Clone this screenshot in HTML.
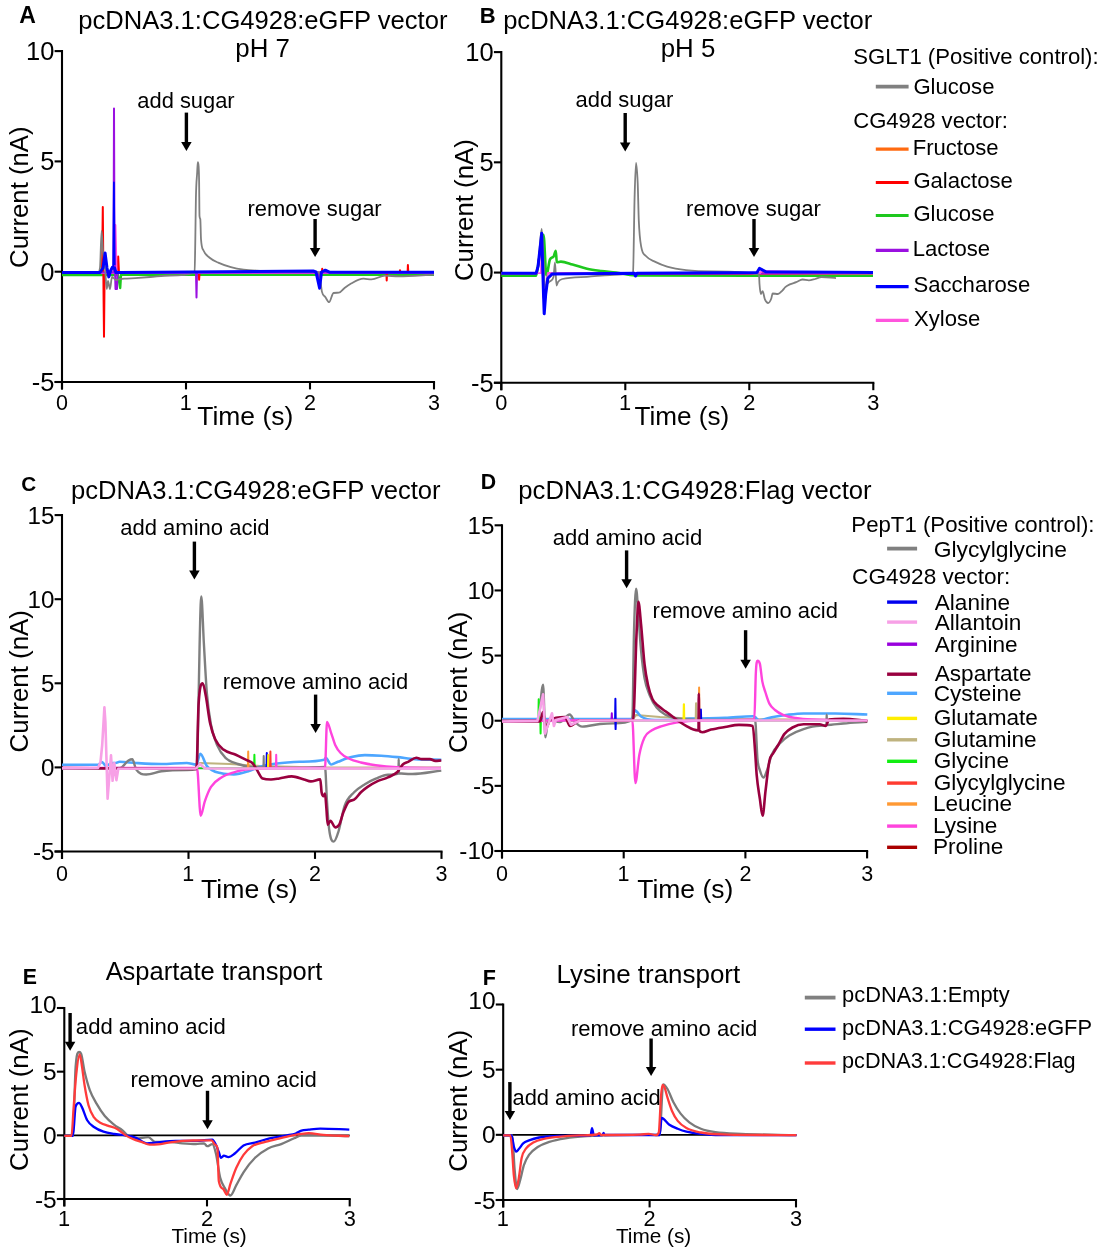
<!DOCTYPE html>
<html><head><meta charset="utf-8"><style>
html,body{margin:0;padding:0;background:#fff;}
svg{display:block;will-change:transform;}
text{font-family:"Liberation Sans",sans-serif;}
</style></head><body>
<svg width="1104" height="1257" viewBox="0 0 1104 1257">
<rect width="1104" height="1257" fill="#fff"/>
<line x1="62.00" y1="50.10" x2="62.00" y2="389.40" stroke="#000" stroke-width="2.1"/>
<line x1="54.60" y1="382.00" x2="435.05" y2="382.00" stroke="#000" stroke-width="2.1"/>
<line x1="54.60" y1="51.10" x2="62.00" y2="51.10" stroke="#000" stroke-width="2.1"/>
<text x="26.05" y="60.02" font-size="25.50" font-weight="normal" fill="#000">10</text>
<line x1="54.60" y1="161.40" x2="62.00" y2="161.40" stroke="#000" stroke-width="2.1"/>
<text x="40.27" y="170.33" font-size="25.50" font-weight="normal" fill="#000">5</text>
<line x1="54.60" y1="271.70" x2="62.00" y2="271.70" stroke="#000" stroke-width="2.1"/>
<text x="40.20" y="280.62" font-size="25.50" font-weight="normal" fill="#000">0</text>
<line x1="54.60" y1="382.00" x2="62.00" y2="382.00" stroke="#000" stroke-width="2.1"/>
<text x="31.79" y="390.93" font-size="25.50" font-weight="normal" fill="#000">-5</text>
<line x1="62.00" y1="382.00" x2="62.00" y2="389.40" stroke="#000" stroke-width="2.1"/>
<text x="56.01" y="409.60" font-size="21.50" font-weight="normal" fill="#000">0</text>
<line x1="186.00" y1="382.00" x2="186.00" y2="389.40" stroke="#000" stroke-width="2.1"/>
<text x="179.74" y="409.60" font-size="21.50" font-weight="normal" fill="#000">1</text>
<line x1="310.00" y1="382.00" x2="310.00" y2="389.40" stroke="#000" stroke-width="2.1"/>
<text x="304.03" y="409.60" font-size="21.50" font-weight="normal" fill="#000">2</text>
<line x1="434.00" y1="382.00" x2="434.00" y2="389.40" stroke="#000" stroke-width="2.1"/>
<text x="428.09" y="409.60" font-size="21.50" font-weight="normal" fill="#000">3</text>
<line x1="501.30" y1="51.10" x2="501.30" y2="390.20" stroke="#000" stroke-width="2.1"/>
<line x1="493.90" y1="382.80" x2="874.35" y2="382.80" stroke="#000" stroke-width="2.1"/>
<line x1="493.90" y1="52.10" x2="501.30" y2="52.10" stroke="#000" stroke-width="2.1"/>
<text x="465.35" y="61.02" font-size="25.50" font-weight="normal" fill="#000">10</text>
<line x1="493.90" y1="162.33" x2="501.30" y2="162.33" stroke="#000" stroke-width="2.1"/>
<text x="479.57" y="171.26" font-size="25.50" font-weight="normal" fill="#000">5</text>
<line x1="493.90" y1="272.57" x2="501.30" y2="272.57" stroke="#000" stroke-width="2.1"/>
<text x="479.50" y="281.49" font-size="25.50" font-weight="normal" fill="#000">0</text>
<line x1="493.90" y1="382.80" x2="501.30" y2="382.80" stroke="#000" stroke-width="2.1"/>
<text x="471.09" y="391.73" font-size="25.50" font-weight="normal" fill="#000">-5</text>
<line x1="501.30" y1="382.80" x2="501.30" y2="390.20" stroke="#000" stroke-width="2.1"/>
<text x="495.22" y="409.70" font-size="21.80" font-weight="normal" fill="#000">0</text>
<line x1="625.30" y1="382.80" x2="625.30" y2="390.20" stroke="#000" stroke-width="2.1"/>
<text x="618.95" y="409.70" font-size="21.80" font-weight="normal" fill="#000">1</text>
<line x1="749.30" y1="382.80" x2="749.30" y2="390.20" stroke="#000" stroke-width="2.1"/>
<text x="743.25" y="409.70" font-size="21.80" font-weight="normal" fill="#000">2</text>
<line x1="873.30" y1="382.80" x2="873.30" y2="390.20" stroke="#000" stroke-width="2.1"/>
<text x="867.30" y="409.70" font-size="21.80" font-weight="normal" fill="#000">3</text>
<line x1="62.00" y1="514.10" x2="62.00" y2="858.90" stroke="#000" stroke-width="2.1"/>
<line x1="54.60" y1="851.50" x2="442.55" y2="851.50" stroke="#000" stroke-width="2.1"/>
<line x1="54.60" y1="515.10" x2="62.00" y2="515.10" stroke="#000" stroke-width="2.1"/>
<text x="27.51" y="523.57" font-size="24.20" font-weight="normal" fill="#000">15</text>
<line x1="54.60" y1="599.20" x2="62.00" y2="599.20" stroke="#000" stroke-width="2.1"/>
<text x="27.45" y="607.67" font-size="24.20" font-weight="normal" fill="#000">10</text>
<line x1="54.60" y1="683.30" x2="62.00" y2="683.30" stroke="#000" stroke-width="2.1"/>
<text x="40.94" y="691.77" font-size="24.20" font-weight="normal" fill="#000">5</text>
<line x1="54.60" y1="767.40" x2="62.00" y2="767.40" stroke="#000" stroke-width="2.1"/>
<text x="40.88" y="775.87" font-size="24.20" font-weight="normal" fill="#000">0</text>
<line x1="54.60" y1="851.50" x2="62.00" y2="851.50" stroke="#000" stroke-width="2.1"/>
<text x="32.89" y="859.97" font-size="24.20" font-weight="normal" fill="#000">-5</text>
<line x1="62.00" y1="851.50" x2="62.00" y2="858.90" stroke="#000" stroke-width="2.1"/>
<text x="56.01" y="881.20" font-size="21.50" font-weight="normal" fill="#000">0</text>
<line x1="188.50" y1="851.50" x2="188.50" y2="858.90" stroke="#000" stroke-width="2.1"/>
<text x="182.24" y="881.20" font-size="21.50" font-weight="normal" fill="#000">1</text>
<line x1="315.00" y1="851.50" x2="315.00" y2="858.90" stroke="#000" stroke-width="2.1"/>
<text x="309.03" y="881.20" font-size="21.50" font-weight="normal" fill="#000">2</text>
<line x1="441.50" y1="851.50" x2="441.50" y2="858.90" stroke="#000" stroke-width="2.1"/>
<text x="435.59" y="881.20" font-size="21.50" font-weight="normal" fill="#000">3</text>
<line x1="502.00" y1="524.30" x2="502.00" y2="858.40" stroke="#000" stroke-width="2.1"/>
<line x1="494.60" y1="851.00" x2="868.15" y2="851.00" stroke="#000" stroke-width="2.1"/>
<line x1="494.60" y1="525.30" x2="502.00" y2="525.30" stroke="#000" stroke-width="2.1"/>
<text x="467.51" y="533.77" font-size="24.20" font-weight="normal" fill="#000">15</text>
<line x1="494.60" y1="590.44" x2="502.00" y2="590.44" stroke="#000" stroke-width="2.1"/>
<text x="467.45" y="598.91" font-size="24.20" font-weight="normal" fill="#000">10</text>
<line x1="494.60" y1="655.58" x2="502.00" y2="655.58" stroke="#000" stroke-width="2.1"/>
<text x="480.94" y="664.05" font-size="24.20" font-weight="normal" fill="#000">5</text>
<line x1="494.60" y1="720.72" x2="502.00" y2="720.72" stroke="#000" stroke-width="2.1"/>
<text x="480.88" y="729.19" font-size="24.20" font-weight="normal" fill="#000">0</text>
<line x1="494.60" y1="785.86" x2="502.00" y2="785.86" stroke="#000" stroke-width="2.1"/>
<text x="472.89" y="794.33" font-size="24.20" font-weight="normal" fill="#000">-5</text>
<line x1="494.60" y1="851.00" x2="502.00" y2="851.00" stroke="#000" stroke-width="2.1"/>
<text x="459.34" y="859.47" font-size="24.20" font-weight="normal" fill="#000">-10</text>
<line x1="502.00" y1="851.00" x2="502.00" y2="858.40" stroke="#000" stroke-width="2.1"/>
<text x="496.01" y="881.20" font-size="21.50" font-weight="normal" fill="#000">0</text>
<line x1="623.70" y1="851.00" x2="623.70" y2="858.40" stroke="#000" stroke-width="2.1"/>
<text x="617.44" y="881.20" font-size="21.50" font-weight="normal" fill="#000">1</text>
<line x1="745.40" y1="851.00" x2="745.40" y2="858.40" stroke="#000" stroke-width="2.1"/>
<text x="739.43" y="881.20" font-size="21.50" font-weight="normal" fill="#000">2</text>
<line x1="867.10" y1="851.00" x2="867.10" y2="858.40" stroke="#000" stroke-width="2.1"/>
<text x="861.19" y="881.20" font-size="21.50" font-weight="normal" fill="#000">3</text>
<line x1="64.30" y1="1007.00" x2="64.30" y2="1206.40" stroke="#000" stroke-width="2.1"/>
<line x1="56.90" y1="1199.00" x2="350.75" y2="1199.00" stroke="#000" stroke-width="2.1"/>
<line x1="56.90" y1="1008.00" x2="64.30" y2="1008.00" stroke="#000" stroke-width="2.1"/>
<text x="29.42" y="1012.68" font-size="24.50" font-weight="normal" fill="#000">10</text>
<line x1="56.90" y1="1071.67" x2="64.30" y2="1071.67" stroke="#000" stroke-width="2.1"/>
<text x="43.08" y="1080.24" font-size="24.50" font-weight="normal" fill="#000">5</text>
<line x1="56.90" y1="1135.33" x2="64.30" y2="1135.33" stroke="#000" stroke-width="2.1"/>
<text x="43.02" y="1143.91" font-size="24.50" font-weight="normal" fill="#000">0</text>
<line x1="56.90" y1="1199.00" x2="64.30" y2="1199.00" stroke="#000" stroke-width="2.1"/>
<text x="34.94" y="1207.58" font-size="24.50" font-weight="normal" fill="#000">-5</text>
<line x1="64.30" y1="1199.00" x2="64.30" y2="1206.40" stroke="#000" stroke-width="2.1"/>
<text x="57.95" y="1226.10" font-size="21.80" font-weight="normal" fill="#000">1</text>
<line x1="207.00" y1="1199.00" x2="207.00" y2="1206.40" stroke="#000" stroke-width="2.1"/>
<text x="200.95" y="1226.10" font-size="21.80" font-weight="normal" fill="#000">2</text>
<line x1="349.70" y1="1199.00" x2="349.70" y2="1206.40" stroke="#000" stroke-width="2.1"/>
<text x="343.70" y="1226.10" font-size="21.80" font-weight="normal" fill="#000">3</text>
<line x1="503.20" y1="1003.50" x2="503.20" y2="1207.40" stroke="#000" stroke-width="2.1"/>
<line x1="495.80" y1="1200.00" x2="797.05" y2="1200.00" stroke="#000" stroke-width="2.1"/>
<line x1="495.80" y1="1004.50" x2="503.20" y2="1004.50" stroke="#000" stroke-width="2.1"/>
<text x="468.32" y="1009.18" font-size="24.50" font-weight="normal" fill="#000">10</text>
<line x1="495.80" y1="1069.67" x2="503.20" y2="1069.67" stroke="#000" stroke-width="2.1"/>
<text x="481.98" y="1078.24" font-size="24.50" font-weight="normal" fill="#000">5</text>
<line x1="495.80" y1="1134.83" x2="503.20" y2="1134.83" stroke="#000" stroke-width="2.1"/>
<text x="481.92" y="1143.41" font-size="24.50" font-weight="normal" fill="#000">0</text>
<line x1="495.80" y1="1200.00" x2="503.20" y2="1200.00" stroke="#000" stroke-width="2.1"/>
<text x="473.84" y="1208.58" font-size="24.50" font-weight="normal" fill="#000">-5</text>
<line x1="503.20" y1="1200.00" x2="503.20" y2="1207.40" stroke="#000" stroke-width="2.1"/>
<text x="496.85" y="1226.30" font-size="21.80" font-weight="normal" fill="#000">1</text>
<line x1="649.60" y1="1200.00" x2="649.60" y2="1207.40" stroke="#000" stroke-width="2.1"/>
<text x="643.55" y="1226.30" font-size="21.80" font-weight="normal" fill="#000">2</text>
<line x1="796.00" y1="1200.00" x2="796.00" y2="1207.40" stroke="#000" stroke-width="2.1"/>
<text x="790.00" y="1226.30" font-size="21.80" font-weight="normal" fill="#000">3</text>
<line x1="64.30" y1="1135.33" x2="349.70" y2="1135.33" stroke="#000" stroke-width="1.8"/>
<line x1="503.20" y1="1134.83" x2="796.00" y2="1134.83" stroke="#000" stroke-width="1.8"/>
<polyline points="62.0,275.0 118.0,275.0 120.2,288.0 121.0,274.8 434.0,274.9" fill="none" stroke="#1ec81e" stroke-width="2.4" stroke-linejoin="round" stroke-linecap="butt" opacity="1"/>
<polyline points="62.0,272.6 434.0,272.6" fill="none" stroke="#ff6a10" stroke-width="2" stroke-linejoin="round" stroke-linecap="butt" opacity="1"/>
<polyline points="62.0,273.0 102.0,273.0 102.8,207.0 103.6,300.0 104.0,336.8 104.6,273.0 117.5,273.0 118.2,256.6 119.0,273.0 198.8,273.0 199.1,279.8 199.6,273.0 321.8,273.0 322.2,268.8 322.6,273.0 386.4,273.0 386.7,280.5 387.1,273.0 399.7,273.0 400.0,270.2 400.4,273.0 407.6,273.0 407.9,265.1 408.3,273.0 434.0,273.0" fill="none" stroke="#ff0000" stroke-width="2" stroke-linejoin="round" stroke-linecap="butt" opacity="1"/>
<polyline points="62.0,273.0 115.0,273.0 115.4,225.1 116.6,273.0 434.0,273.0" fill="none" stroke="#ff55dd" stroke-width="2" stroke-linejoin="round" stroke-linecap="butt" opacity="1"/>
<polyline points="62.0,272.6 113.5,272.6 114.0,108.6 114.5,250.0 115.5,289.0 117.0,289.0 117.5,272.6 196.0,272.6 196.5,297.6 197.0,272.6 318.0,272.6 318.5,278.0 319.5,272.6 434.0,272.6" fill="none" stroke="#9a10e0" stroke-width="2" stroke-linejoin="round" stroke-linecap="butt" opacity="1"/>
<path d="M62.00,272.50 C74.00,272.50 86.00,272.50 98.00,272.50 C98.67,272.50 99.33,272.50 100.00,268.00 C100.53,264.40 101.07,230.80 101.60,230.80 C102.07,230.80 102.53,246.60 103.00,252.00 C103.67,259.71 104.33,261.44 105.00,268.00 C105.60,273.90 106.20,289.00 106.80,289.00 C107.20,289.00 107.60,281.00 108.00,281.00 C108.67,281.00 109.33,289.00 110.00,289.00 C110.67,289.00 111.33,277.00 112.00,277.00 C113.33,277.00 114.67,280.00 116.00,280.00 C117.33,280.00 118.67,279.20 120.00,279.00 C122.33,278.64 124.67,278.75 127.00,278.60 C134.67,278.11 142.33,277.55 150.00,277.00 C156.67,276.52 163.33,275.51 170.00,275.50 C178.20,275.49 186.40,275.50 194.60,272.60 C194.83,272.52 195.07,253.52 195.30,240.00 C195.50,228.41 195.70,207.36 195.90,198.40 C196.33,178.98 196.77,179.97 197.20,172.00 C197.40,168.32 197.60,162.10 197.80,162.10 C198.07,162.10 198.33,162.10 198.60,166.00 C198.77,168.44 198.93,170.69 199.10,180.50 C199.23,188.35 199.37,214.58 199.50,216.00 C199.77,218.83 200.03,218.01 200.30,219.00 C200.53,219.87 200.77,235.95 201.00,239.10 C201.83,250.33 202.67,248.55 203.50,250.50 C205.43,255.02 207.37,255.78 209.30,257.50 C212.27,260.14 215.23,261.22 218.20,262.60 C222.43,264.56 226.67,265.93 230.90,267.10 C235.13,268.27 239.37,269.03 243.60,269.60 C249.07,270.34 254.53,270.57 260.00,270.80 C273.33,271.36 286.67,271.48 300.00,271.50 C306.40,271.51 312.80,271.50 319.20,272.50 C320.10,272.64 321.00,287.70 321.90,291.60 C323.03,296.51 324.17,295.32 325.30,297.00 C326.57,298.87 327.83,302.20 329.10,302.20 C330.57,302.20 332.03,293.23 333.50,293.00 C335.30,292.72 337.10,292.81 338.90,292.70 C340.70,292.59 342.50,289.57 344.30,288.20 C346.57,286.47 348.83,284.73 351.10,283.50 C355.20,281.28 359.30,278.70 363.40,278.70 C366.10,278.70 368.80,279.40 371.50,279.40 C376.03,279.40 380.57,275.60 385.10,275.60 C389.63,275.60 394.17,276.40 398.70,276.40 C410.47,276.40 422.23,275.13 434.00,274.50" fill="none" stroke="#7f7f7f" stroke-width="1.8" stroke-linejoin="round" stroke-linecap="butt" opacity="1"/>
<polyline points="113.2,268.0 113.9,182.5 114.6,265.0" fill="none" stroke="#0000ff" stroke-width="1.8" stroke-linejoin="round" stroke-linecap="butt" opacity="1"/>
<polyline points="62.0,272.4 100.0,272.4 103.0,268.0 105.1,253.0 107.0,268.0 108.8,276.9 110.5,271.0 112.3,267.3 113.5,268.0 114.6,268.0 115.5,271.3 116.0,272.6 120.0,272.6 313.1,271.0 316.0,272.0 319.6,288.2 321.5,272.0 325.3,270.2 330.0,272.3 434.0,272.3" fill="none" stroke="#0000ff" stroke-width="3.0" stroke-linejoin="round" stroke-linecap="butt" opacity="1"/>
<path d="M501.30,275.80 C512.87,275.80 524.43,275.80 536.00,275.80 C536.67,275.80 537.33,269.52 538.00,266.00 C539.83,256.31 541.67,234.80 543.50,234.80 C544.47,234.80 545.43,275.40 546.40,275.40 C547.60,275.40 548.80,261.83 550.00,259.40 C551.20,256.97 552.40,258.09 553.60,256.50 C554.33,255.53 555.07,250.70 555.80,250.70 C556.13,250.70 556.47,262.30 556.80,262.30 C558.17,262.30 559.53,261.60 560.90,261.60 C564.77,261.60 568.63,263.44 572.50,264.50 C577.33,265.82 582.17,267.71 587.00,268.80 C591.80,269.88 596.60,270.39 601.40,271.00 C606.27,271.62 611.13,271.87 616.00,272.50 C622.33,273.33 628.67,275.48 635.00,275.50 C714.33,275.80 793.67,275.80 873.00,275.80" fill="none" stroke="#1ec81e" stroke-width="2.6" stroke-linejoin="round" stroke-linecap="butt" opacity="1"/>
<polyline points="501.3,273.2 536.2,273.2 538.0,267.0 541.7,236.0 543.5,292.0 544.4,305.0 545.7,292.0 547.8,278.3 552.2,273.9 873.0,273.2" fill="none" stroke="#ff6a10" stroke-width="2" stroke-linejoin="round" stroke-linecap="butt" opacity="1"/>
<polyline points="501.3,273.2 536.2,273.2 538.0,267.0 541.7,236.0 543.5,292.0 544.4,305.0 545.7,292.0 547.8,278.3 552.2,273.9 873.0,273.2" fill="none" stroke="#ff0000" stroke-width="2" stroke-linejoin="round" stroke-linecap="butt" opacity="1"/>
<polyline points="501.3,273.2 536.2,273.2 538.0,267.0 541.7,236.0 543.5,292.0 544.4,305.0 545.7,292.0 547.8,278.3 552.2,273.9 873.0,273.2" fill="none" stroke="#9a10e0" stroke-width="2" stroke-linejoin="round" stroke-linecap="butt" opacity="1"/>
<polyline points="501.3,273.2 541.0,273.0 542.0,240.0 544.0,300.0 548.0,273.0 760.0,273.0 762.0,271.0 800.0,272.0 873.0,273.0" fill="none" stroke="#ff55dd" stroke-width="2" stroke-linejoin="round" stroke-linecap="butt" opacity="1"/>
<path d="M501.30,273.30 C512.87,273.30 524.43,273.30 536.00,273.30 C536.83,273.30 537.67,268.18 538.50,262.00 C539.57,254.09 540.63,229.00 541.70,229.00 C542.30,229.00 542.90,249.43 543.50,260.00 C544.00,268.81 544.50,287.00 545.00,287.00 C545.67,287.00 546.33,284.81 547.00,284.00 C548.00,282.78 549.00,281.89 550.00,281.20 C551.17,280.40 552.33,281.12 553.50,277.00 C554.00,275.23 554.50,262.30 555.00,262.30 C555.50,262.30 556.00,285.50 556.50,285.50 C557.00,285.50 557.50,282.76 558.00,282.00 C559.43,279.83 560.87,279.37 562.30,279.00 C570.53,276.85 578.77,277.26 587.00,276.80 C594.67,276.37 602.33,275.27 610.00,275.00 C616.80,274.76 623.60,273.97 630.40,273.90 C631.27,273.89 632.13,273.90 633.00,272.50 C633.53,271.64 634.07,216.16 634.60,197.10 C635.07,180.42 635.53,163.00 636.00,163.00 C636.57,163.00 637.13,169.96 637.70,183.00 C638.07,191.44 638.43,212.44 638.80,220.70 C639.60,238.73 640.40,241.90 641.20,246.60 C642.77,255.81 644.33,254.11 645.90,256.00 C649.03,259.78 652.17,260.29 655.30,261.90 C659.23,263.92 663.17,265.45 667.10,266.60 C673.40,268.44 679.70,269.38 686.00,270.10 C695.40,271.17 704.80,271.29 714.20,271.30 C729.13,271.32 744.07,271.30 759.00,274.50 C759.17,274.54 759.33,281.78 759.50,284.00 C759.93,289.78 760.37,294.00 760.80,294.00 C761.40,294.00 762.00,291.20 762.60,291.20 C763.37,291.20 764.13,297.60 764.90,299.40 C765.97,301.90 767.03,303.00 768.10,303.00 C769.17,303.00 770.23,301.30 771.30,298.50 C771.73,297.36 772.17,293.50 772.60,293.50 C774.40,293.50 776.20,294.00 778.00,294.00 C779.53,294.00 781.07,291.80 782.60,290.30 C783.50,289.42 784.40,288.00 785.30,287.20 C786.80,285.87 788.30,285.12 789.80,284.40 C791.93,283.37 794.07,283.02 796.20,282.20 C798.30,281.39 800.40,279.50 802.50,279.50 C804.60,279.50 806.70,280.40 808.80,280.40 C810.93,280.40 813.07,279.54 815.20,279.00 C817.30,278.47 819.40,277.20 821.50,277.20 C824.53,277.20 827.57,277.39 830.60,277.60 C832.40,277.72 834.20,277.93 836.00,278.10" fill="none" stroke="#7f7f7f" stroke-width="1.8" stroke-linejoin="round" stroke-linecap="butt" opacity="1"/>
<polyline points="501.3,273.2 536.2,273.2 538.0,266.7 541.7,233.3 543.5,294.2 544.2,313.8 545.7,294.2 547.8,278.3 552.2,273.9 634.5,273.2 635.5,276.0 637.0,273.2 757.0,272.5 759.4,268.4 766.0,271.8 873.0,272.5" fill="none" stroke="#0000ff" stroke-width="3.0" stroke-linejoin="round" stroke-linecap="butt" opacity="1"/>
<polyline points="62.0,768.3 200.0,768.3 441.0,768.3" fill="none" stroke="#1ec81e" stroke-width="2" stroke-linejoin="round" stroke-linecap="butt" opacity="1"/>
<polyline points="196.0,768.0 200.0,763.0 230.0,764.0 260.0,766.0 320.0,767.5 441.0,767.5" fill="none" stroke="#bfb37f" stroke-width="2.2" stroke-linejoin="round" stroke-linecap="butt" opacity="1"/>
<path d="M62.00,764.70 C74.00,764.70 86.00,764.70 98.00,764.70 C99.33,764.70 100.67,762.00 102.00,762.00 C103.33,762.00 104.67,766.00 106.00,766.00 C108.00,766.00 110.00,763.00 112.00,763.00 C113.27,763.00 114.53,763.00 115.80,763.00 C117.07,763.00 118.33,761.80 119.60,761.80 C125.07,761.80 130.53,762.69 136.00,763.00 C144.47,763.48 152.93,764.00 161.40,764.00 C169.87,764.00 178.33,763.00 186.80,763.00 C189.97,763.00 193.13,764.70 196.30,764.70 C197.63,764.70 198.97,753.70 200.30,753.70 C202.50,753.70 204.70,763.49 206.90,766.10 C211.73,771.84 216.57,772.01 221.40,773.30 C225.53,774.40 229.67,774.40 233.80,774.40 C238.60,774.40 243.40,772.79 248.20,771.30 C251.67,770.23 255.13,768.17 258.60,767.10 C263.40,765.61 268.20,764.75 273.00,764.00 C279.90,762.92 286.80,762.44 293.70,762.00 C295.80,761.87 297.90,761.84 300.00,761.80 C308.10,761.65 316.20,761.79 324.30,759.80 C324.77,759.69 325.23,757.80 325.70,757.80 C327.50,757.80 329.30,764.50 331.10,764.50 C333.37,764.50 335.63,762.64 337.90,761.80 C342.40,760.12 346.90,758.22 351.40,757.10 C355.90,755.98 360.40,755.10 364.90,755.10 C370.33,755.10 375.77,755.37 381.20,755.70 C386.60,756.03 392.00,756.56 397.40,757.10 C403.27,757.69 409.13,758.69 415.00,759.10 C423.77,759.71 432.53,759.57 441.30,759.80" fill="none" stroke="#4da6ff" stroke-width="2.6" stroke-linejoin="round" stroke-linecap="butt" opacity="1"/>
<path d="M62.00,768.50 C81.33,768.49 100.67,768.50 120.00,768.00 C122.83,767.93 125.67,762.20 128.50,760.50 C129.77,759.74 131.03,759.30 132.30,759.30 C133.57,759.30 134.83,767.48 136.10,769.40 C139.47,774.50 142.83,774.50 146.20,774.50 C151.27,774.50 156.33,771.96 161.40,771.30 C169.87,770.19 178.33,770.01 186.80,770.00 C190.03,770.00 193.27,770.00 196.50,769.20 C198.10,768.80 199.70,596.50 201.30,596.50 C202.13,596.50 202.97,627.47 203.80,642.00 C204.83,660.02 205.87,681.18 206.90,693.70 C208.27,710.26 209.63,717.25 211.00,724.70 C213.07,735.96 215.13,740.41 217.20,745.40 C219.97,752.09 222.73,755.04 225.50,757.80 C229.63,761.92 233.77,762.52 237.90,764.00 C242.73,765.73 247.57,766.83 252.40,767.10 C268.27,768.00 284.13,768.00 300.00,768.00 C308.33,768.00 316.67,767.00 325.00,767.00 C325.67,767.00 326.33,791.62 327.00,801.70 C327.70,812.29 328.40,823.33 329.10,828.80 C330.67,841.04 332.23,841.60 333.80,841.60 C335.37,841.60 336.93,836.48 338.50,831.50 C340.53,825.03 342.57,811.53 344.60,805.80 C347.77,796.88 350.93,795.74 354.10,792.30 C357.70,788.39 361.30,786.47 364.90,784.20 C368.50,781.93 372.10,780.21 375.70,778.70 C379.77,777.00 383.83,774.71 387.90,774.70 C391.43,774.69 394.97,774.70 398.50,773.30 C398.57,773.27 398.63,759.00 398.70,759.00 C398.77,759.00 398.83,773.29 398.90,773.30 C403.37,774.00 407.83,774.00 412.30,774.00 C421.97,774.00 431.63,771.73 441.30,770.60" fill="none" stroke="#7f7f7f" stroke-width="2.4" stroke-linejoin="round" stroke-linecap="butt" opacity="1"/>
<polyline points="247.9,768.0 248.2,751.6 248.5,768.0" fill="none" stroke="#ff9933" stroke-width="2" stroke-linejoin="round" stroke-linecap="butt" opacity="1"/>
<polyline points="254.1,768.0 254.4,754.7 254.7,768.0" fill="none" stroke="#11ee11" stroke-width="2" stroke-linejoin="round" stroke-linecap="butt" opacity="1"/>
<polyline points="263.4,768.0 263.7,756.0 264.0,768.0" fill="none" stroke="#7f7f7f" stroke-width="2" stroke-linejoin="round" stroke-linecap="butt" opacity="1"/>
<polyline points="266.5,768.0 266.8,753.0 267.1,768.0" fill="none" stroke="#0000ee" stroke-width="2" stroke-linejoin="round" stroke-linecap="butt" opacity="1"/>
<polyline points="267.9,768.0 268.2,755.0 268.5,768.0" fill="none" stroke="#ffee00" stroke-width="2" stroke-linejoin="round" stroke-linecap="butt" opacity="1"/>
<polyline points="270.1,768.0 270.4,751.6 270.7,768.0" fill="none" stroke="#ff3b30" stroke-width="2" stroke-linejoin="round" stroke-linecap="butt" opacity="1"/>
<polyline points="275.9,768.0 276.2,754.7 276.5,768.0" fill="none" stroke="#ff44dd" stroke-width="2" stroke-linejoin="round" stroke-linecap="butt" opacity="1"/>
<path d="M62.00,768.00 C107.00,768.00 152.00,768.00 197.00,768.00 C198.23,768.00 199.47,815.70 200.70,815.70 C202.07,815.70 203.43,805.30 204.80,801.30 C206.87,795.25 208.93,790.14 211.00,786.80 C214.47,781.20 217.93,779.78 221.40,777.50 C225.53,774.79 229.67,773.61 233.80,772.30 C238.60,770.78 243.40,769.53 248.20,769.20 C265.47,768.00 282.73,768.00 300.00,768.00 C308.33,768.00 316.67,768.00 325.00,768.00 C325.67,768.00 326.33,721.90 327.00,721.90 C328.37,721.90 329.73,728.97 331.10,732.80 C332.47,736.63 333.83,741.86 335.20,744.90 C337.00,748.91 338.80,751.04 340.60,753.00 C343.30,755.94 346.00,757.14 348.70,758.50 C352.77,760.55 356.83,761.46 360.90,762.50 C365.83,763.76 370.77,764.52 375.70,765.20 C382.93,766.19 390.17,766.82 397.40,767.20 C411.93,767.96 426.47,767.75 441.00,768.00" fill="none" stroke="#ff44dd" stroke-width="2.4" stroke-linejoin="round" stroke-linecap="butt" opacity="1"/>
<path d="M62.00,768.00 C106.83,768.33 151.67,769.00 196.50,769.00 C197.20,769.00 197.90,714.55 198.60,704.00 C199.97,683.40 201.33,683.40 202.70,683.40 C203.73,683.40 204.77,690.42 205.80,695.80 C207.20,703.08 208.60,716.00 210.00,722.70 C211.73,731.00 213.47,735.35 215.20,739.20 C217.93,745.27 220.67,747.30 223.40,749.60 C227.53,753.07 231.67,752.82 235.80,754.70 C239.27,756.28 242.73,758.17 246.20,759.90 C248.27,760.93 250.33,760.92 252.40,763.00 C253.77,764.38 255.13,767.14 256.50,769.20 C258.57,772.31 260.63,777.75 262.70,778.50 C265.47,779.50 268.23,779.50 271.00,779.50 C273.77,779.50 276.53,778.90 279.30,778.50 C283.43,777.90 287.57,776.40 291.70,776.40 C295.80,776.40 299.90,778.41 304.00,779.50 C306.27,780.10 308.53,781.40 310.80,781.40 C313.97,781.40 317.13,779.40 320.30,779.40 C320.73,779.40 321.17,789.82 321.60,792.30 C322.30,796.30 323.00,796.30 323.70,796.30 C324.13,796.30 324.57,793.60 325.00,793.60 C325.47,793.60 325.93,803.11 326.40,808.50 C326.83,813.51 327.27,824.70 327.70,824.70 C328.60,824.70 329.50,820.70 330.40,820.70 C332.00,820.70 333.60,827.40 335.20,827.40 C336.53,827.40 337.87,827.12 339.20,824.70 C340.57,822.22 341.93,816.00 343.30,812.60 C345.10,808.13 346.90,803.41 348.70,801.70 C350.50,799.99 352.30,800.74 354.10,799.70 C356.37,798.39 358.63,794.45 360.90,792.30 C363.13,790.18 365.37,788.45 367.60,786.90 C370.77,784.71 373.93,782.90 377.10,781.40 C380.70,779.69 384.30,779.09 387.90,777.40 C391.07,775.91 394.23,775.10 397.40,772.00 C399.20,770.24 401.00,766.20 402.80,764.50 C404.60,762.80 406.40,762.69 408.20,761.80 C410.90,760.46 413.60,757.80 416.30,757.80 C418.10,757.80 419.90,759.10 421.70,759.10 C424.43,759.10 427.17,759.10 429.90,759.10 C431.70,759.10 433.50,760.90 435.30,760.90 C437.30,760.90 439.30,760.63 441.30,760.50" fill="none" stroke="#99003f" stroke-width="2.6" stroke-linejoin="round" stroke-linecap="butt" opacity="1"/>
<polyline points="62.0,768.1 98.0,768.0 100.5,762.0 102.2,745.0 104.4,707.3 105.4,722.0 107.6,798.6 111.0,755.4 112.6,780.8 114.3,763.1 116.4,780.2 118.3,768.8 196.0,768.5 200.0,764.0 205.0,768.5 441.0,768.6" fill="none" stroke="#f7a0e6" stroke-width="2.6" stroke-linejoin="round" stroke-linecap="butt" opacity="1"/>
<polyline points="502.0,720.5 867.0,720.5" fill="none" stroke="#1ec81e" stroke-width="2" stroke-linejoin="round" stroke-linecap="butt" opacity="1"/>
<polyline points="632.0,720.0 636.0,715.0 660.0,717.0 700.0,719.0 867.0,720.0" fill="none" stroke="#bfb37f" stroke-width="2.2" stroke-linejoin="round" stroke-linecap="butt" opacity="1"/>
<path d="M502.00,719.00 C513.67,719.00 525.33,719.00 537.00,719.00 C568.67,719.00 600.33,719.00 632.00,719.00 C632.97,719.00 633.93,710.40 634.90,710.40 C636.93,710.40 638.97,715.23 641.00,716.50 C645.67,719.42 650.33,720.00 655.00,720.00 C660.83,720.00 666.67,720.00 672.50,720.00 C678.33,720.00 684.17,718.87 690.00,718.60 C701.67,718.06 713.33,718.34 725.00,717.90 C734.33,717.55 743.67,716.20 753.00,716.20 C753.70,716.20 754.40,716.76 755.10,717.20 C756.43,718.03 757.77,720.30 759.10,720.30 C763.33,720.30 767.57,718.04 771.80,717.20 C777.10,716.15 782.40,715.42 787.70,714.80 C793.00,714.18 798.30,713.50 803.60,713.50 C814.23,713.50 824.87,713.50 835.50,713.50 C846.10,713.50 856.70,714.17 867.30,714.50" fill="none" stroke="#4da6ff" stroke-width="2.6" stroke-linejoin="round" stroke-linecap="butt" opacity="1"/>
<path d="M502.00,720.50 C514.00,720.50 526.00,720.50 538.00,720.00 C539.70,719.93 541.40,684.70 543.10,684.70 C543.87,684.70 544.63,737.40 545.40,737.40 C546.33,737.40 547.27,720.00 548.20,720.00 C552.13,720.00 556.07,722.00 560.00,722.00 C563.23,722.00 566.47,714.50 569.70,714.50 C571.47,714.50 573.23,720.20 575.00,722.00 C577.47,724.51 579.93,726.60 582.40,726.60 C588.27,726.60 594.13,724.48 600.00,724.00 C604.70,723.62 609.40,723.41 614.10,723.40 C620.17,723.39 626.23,723.40 632.30,720.00 C632.87,719.68 633.43,652.98 634.00,632.50 C634.70,607.20 635.40,588.80 636.10,588.80 C636.87,588.80 637.63,605.47 638.40,615.00 C639.27,625.77 640.13,640.70 641.00,650.00 C642.17,662.52 643.33,671.41 644.50,678.00 C646.27,687.98 648.03,691.03 649.80,695.50 C652.13,701.40 654.47,704.81 656.80,707.80 C659.70,711.51 662.60,713.15 665.50,714.80 C669.00,716.79 672.50,717.59 676.00,718.30 C684.00,719.92 692.00,720.00 700.00,720.00 C718.37,720.00 736.73,720.00 755.10,720.00 C755.90,720.00 756.70,750.90 757.50,759.30 C758.30,767.70 759.10,767.75 759.90,770.40 C761.10,774.38 762.30,777.60 763.50,777.60 C764.67,777.60 765.83,773.53 767.00,770.40 C768.60,766.10 770.20,758.26 771.80,754.50 C774.47,748.23 777.13,746.36 779.80,743.40 C782.97,739.89 786.13,737.53 789.30,735.50 C794.07,732.45 798.83,730.65 803.60,729.10 C808.90,727.38 814.20,725.91 819.50,725.90 C821.83,725.89 824.17,725.90 826.50,725.00 C826.57,724.97 826.63,714.80 826.70,714.80 C826.77,714.80 826.83,725.00 826.90,725.00 C832.40,725.00 837.90,723.93 843.40,723.50 C851.37,722.87 859.33,722.43 867.30,721.90" fill="none" stroke="#7f7f7f" stroke-width="2.4" stroke-linejoin="round" stroke-linecap="butt" opacity="1"/>
<polyline points="538.4,720.0 538.7,699.3 539.0,720.0" fill="none" stroke="#11ee11" stroke-width="2" stroke-linejoin="round" stroke-linecap="butt" opacity="1"/>
<polyline points="540.3,720.0 540.6,733.5 540.9,720.0" fill="none" stroke="#11ee11" stroke-width="2" stroke-linejoin="round" stroke-linecap="butt" opacity="1"/>
<polyline points="615.1,720.0 615.4,698.7 615.7,720.0" fill="none" stroke="#0000ee" stroke-width="2" stroke-linejoin="round" stroke-linecap="butt" opacity="1"/>
<polyline points="615.3,720.0 615.6,729.1 615.9,720.0" fill="none" stroke="#0000ee" stroke-width="2" stroke-linejoin="round" stroke-linecap="butt" opacity="1"/>
<polyline points="611.5,720.0 611.8,713.3 612.1,720.0" fill="none" stroke="#9900dd" stroke-width="2" stroke-linejoin="round" stroke-linecap="butt" opacity="1"/>
<polyline points="683.6,720.0 683.9,704.3 684.2,720.0" fill="none" stroke="#ffee00" stroke-width="2.2" stroke-linejoin="round" stroke-linecap="butt" opacity="1"/>
<polyline points="695.8,720.0 696.1,703.4 696.4,720.0" fill="none" stroke="#bfb37f" stroke-width="2.2" stroke-linejoin="round" stroke-linecap="butt" opacity="1"/>
<polyline points="698.8,720.0 699.1,687.6 699.4,720.0" fill="none" stroke="#ff9933" stroke-width="2" stroke-linejoin="round" stroke-linecap="butt" opacity="1"/>
<polyline points="700.6,720.0 700.9,709.5 701.2,720.0" fill="none" stroke="#0000ee" stroke-width="2" stroke-linejoin="round" stroke-linecap="butt" opacity="1"/>
<path d="M502.00,721.00 C545.43,720.67 588.87,720.00 632.30,720.00 C633.33,720.00 634.37,783.00 635.40,783.00 C636.70,783.00 638.00,761.85 639.30,755.00 C641.03,745.86 642.77,741.28 644.50,737.50 C646.83,732.41 649.17,732.16 651.50,730.50 C655.00,728.02 658.50,727.27 662.00,726.10 C666.67,724.54 671.33,723.39 676.00,722.60 C684.00,721.25 692.00,720.50 700.00,720.50 C718.10,720.50 736.20,720.50 754.30,719.50 C754.83,719.47 755.37,681.60 755.90,671.80 C756.43,662.00 756.97,660.70 757.50,660.70 C758.30,660.70 759.10,660.70 759.90,663.90 C760.70,667.10 761.50,677.10 762.30,681.40 C763.37,687.14 764.43,689.13 765.50,692.50 C766.80,696.60 768.10,701.01 769.40,703.60 C771.27,707.32 773.13,708.37 775.00,710.00 C777.67,712.32 780.33,713.66 783.00,714.80 C787.23,716.60 791.47,717.27 795.70,718.00 C801.00,718.92 806.30,719.28 811.60,719.50 C830.17,720.27 848.73,720.10 867.30,720.30" fill="none" stroke="#ff44dd" stroke-width="2.4" stroke-linejoin="round" stroke-linecap="butt" opacity="1"/>
<path d="M502.00,721.50 C514.67,721.50 527.33,721.50 540.00,721.50 C541.00,721.50 542.00,712.00 543.00,712.00 C544.00,712.00 545.00,728.00 546.00,728.00 C547.33,728.00 548.67,720.80 550.00,720.00 C555.00,717.00 560.00,717.00 565.00,717.00 C566.67,717.00 568.33,726.00 570.00,726.00 C573.33,726.00 576.67,720.50 580.00,720.50 C597.70,720.50 615.40,720.50 633.10,720.50 C634.27,720.50 635.43,657.08 636.60,632.50 C637.20,619.86 637.80,601.90 638.40,601.90 C639.27,601.90 640.13,615.17 641.00,623.80 C642.17,635.41 643.33,653.80 644.50,664.00 C645.67,674.20 646.83,679.64 648.00,685.00 C649.47,691.73 650.93,695.83 652.40,699.00 C654.43,703.40 656.47,704.06 658.50,706.00 C660.83,708.22 663.17,709.55 665.50,711.30 C667.83,713.05 670.17,714.75 672.50,716.50 C674.83,718.25 677.17,720.20 679.50,721.80 C681.83,723.40 684.17,724.80 686.50,726.10 C688.83,727.40 691.17,728.81 693.50,729.60 C695.17,730.17 696.83,730.50 698.50,730.50 C698.60,730.50 698.70,693.80 698.80,693.80 C698.93,693.80 699.07,730.27 699.20,730.50 C700.23,732.30 701.27,732.30 702.30,732.30 C705.20,732.30 708.10,730.32 711.00,729.60 C715.67,728.44 720.33,727.78 725.00,727.00 C729.67,726.22 734.33,724.90 739.00,724.90 C743.57,724.90 748.13,724.90 752.70,725.90 C753.50,726.08 754.30,741.20 755.10,751.40 C755.63,758.20 756.17,769.24 756.70,775.20 C757.77,787.12 758.83,791.82 759.90,799.10 C760.80,805.24 761.70,815.80 762.60,815.80 C763.57,815.80 764.53,798.96 765.50,791.10 C766.80,780.53 768.10,767.22 769.40,760.90 C770.73,754.42 772.07,755.43 773.40,753.00 C775.00,750.09 776.60,747.74 778.20,745.00 C780.30,741.40 782.40,736.59 784.50,733.90 C787.17,730.48 789.83,728.95 792.50,727.50 C796.20,725.49 799.90,724.30 803.60,724.30 C808.90,724.30 814.20,724.30 819.50,724.30 C821.63,724.30 823.77,725.90 825.90,725.90 C826.97,725.90 828.03,719.68 829.10,719.50 C833.87,718.70 838.63,718.70 843.40,718.70 C851.37,718.70 859.33,720.30 867.30,721.10" fill="none" stroke="#99003f" stroke-width="2.6" stroke-linejoin="round" stroke-linecap="butt" opacity="1"/>
<polyline points="502.0,721.5 537.4,721.0 543.1,694.2 545.0,733.5 552.0,713.3 553.9,726.0 555.8,720.0 567.2,717.1 571.0,724.7 580.0,720.5 867.0,720.5" fill="none" stroke="#f7a0e6" stroke-width="2.6" stroke-linejoin="round" stroke-linecap="butt" opacity="1"/>
<path d="M64.30,1135.80 C67.17,1135.80 70.03,1135.80 72.90,1135.80 C73.80,1135.80 74.70,1079.27 75.60,1067.20 C76.73,1052.00 77.87,1052.00 79.00,1052.00 C79.70,1052.00 80.40,1052.00 81.10,1053.60 C82.23,1056.19 83.37,1066.26 84.50,1071.20 C86.30,1079.04 88.10,1085.32 89.90,1090.30 C92.17,1096.58 94.43,1099.93 96.70,1103.90 C99.40,1108.63 102.10,1112.82 104.80,1116.10 C107.97,1119.95 111.13,1122.37 114.30,1124.90 C117.03,1127.08 119.77,1128.12 122.50,1130.40 C124.30,1131.90 126.10,1134.60 127.90,1135.80 C130.63,1137.62 133.37,1138.50 136.10,1138.50 C140.17,1138.50 144.23,1137.10 148.30,1137.10 C150.57,1137.10 152.83,1141.90 155.10,1141.90 C159.63,1141.90 164.17,1141.90 168.70,1141.90 C173.23,1141.90 177.77,1142.95 182.30,1143.30 C186.83,1143.65 191.37,1144.00 195.90,1144.00 C198.60,1144.00 201.30,1143.30 204.00,1143.30 C205.07,1143.30 206.13,1146.20 207.20,1146.20 C208.90,1146.20 210.60,1144.10 212.30,1144.10 C213.50,1144.10 214.70,1148.58 215.90,1153.50 C217.37,1159.51 218.83,1172.43 220.30,1178.10 C222.00,1184.67 223.70,1186.08 225.40,1189.00 C227.07,1191.86 228.73,1195.50 230.40,1195.50 C232.33,1195.50 234.27,1188.82 236.20,1185.40 C238.63,1181.10 241.07,1176.00 243.50,1172.30 C247.37,1166.41 251.23,1161.61 255.10,1157.80 C259.43,1153.52 263.77,1150.68 268.10,1148.40 C272.47,1146.10 276.83,1145.79 281.20,1144.10 C285.53,1142.42 289.87,1140.14 294.20,1138.30 C296.60,1137.28 299.00,1135.40 301.40,1135.40 C306.23,1135.40 311.07,1135.40 315.90,1135.40 C327.03,1135.40 338.17,1135.87 349.30,1136.10" fill="none" stroke="#7a7a7a" stroke-width="2.3" stroke-linejoin="round" stroke-linecap="butt" opacity="1"/>
<path d="M64.30,1135.80 C67.17,1135.80 70.03,1135.80 72.90,1135.80 C73.80,1135.80 74.70,1109.62 75.60,1106.60 C76.73,1102.80 77.87,1102.80 79.00,1102.80 C79.90,1102.80 80.80,1104.85 81.70,1106.60 C83.53,1110.16 85.37,1117.02 87.20,1120.20 C89.47,1124.14 91.73,1125.31 94.00,1127.00 C97.17,1129.37 100.33,1130.58 103.50,1131.70 C107.10,1132.97 110.70,1133.39 114.30,1134.00 C117.93,1134.62 121.57,1134.77 125.20,1135.40 C128.83,1136.03 132.47,1136.48 136.10,1137.80 C139.73,1139.12 143.37,1143.30 147.00,1143.30 C149.70,1143.30 152.40,1142.84 155.10,1142.60 C161.90,1142.01 168.70,1140.80 175.50,1140.80 C182.30,1140.80 189.10,1140.80 195.90,1140.80 C201.37,1140.80 206.83,1139.70 212.30,1139.70 C213.50,1139.70 214.70,1142.46 215.90,1144.80 C216.87,1146.68 217.83,1149.53 218.80,1152.00 C219.53,1153.88 220.27,1157.80 221.00,1157.80 C221.97,1157.80 222.93,1155.70 223.90,1155.70 C225.37,1155.70 226.83,1157.10 228.30,1157.10 C230.47,1157.10 232.63,1155.10 234.80,1153.50 C237.70,1151.36 240.60,1147.20 243.50,1145.50 C247.37,1143.24 251.23,1143.66 255.10,1142.60 C259.93,1141.28 264.77,1139.42 269.60,1138.30 C275.40,1136.96 281.20,1136.52 287.00,1135.40 C289.90,1134.84 292.80,1134.55 295.70,1133.50 C297.60,1132.81 299.50,1131.21 301.40,1130.60 C303.83,1129.81 306.27,1129.87 308.70,1129.60 C312.57,1129.17 316.43,1128.60 320.30,1128.60 C329.97,1128.60 339.63,1129.27 349.30,1129.60" fill="none" stroke="#0000ff" stroke-width="2.3" stroke-linejoin="round" stroke-linecap="butt" opacity="1"/>
<path d="M64.30,1135.80 C66.70,1135.80 69.10,1135.80 71.50,1135.80 C72.20,1135.80 72.90,1116.94 73.60,1107.90 C74.50,1096.27 75.40,1082.26 76.30,1074.00 C77.43,1063.60 78.57,1054.30 79.70,1054.30 C80.37,1054.30 81.03,1060.38 81.70,1064.50 C82.63,1070.26 83.57,1079.04 84.50,1084.80 C85.83,1093.03 87.17,1100.32 88.50,1105.20 C90.33,1111.91 92.17,1114.63 94.00,1117.40 C96.27,1120.83 98.53,1121.53 100.80,1122.90 C103.07,1124.27 105.33,1124.74 107.60,1125.60 C110.77,1126.80 113.93,1127.24 117.10,1129.00 C119.80,1130.50 122.50,1133.41 125.20,1135.10 C127.93,1136.81 130.67,1138.06 133.40,1139.20 C136.10,1140.33 138.80,1141.01 141.50,1141.90 C144.23,1142.81 146.97,1144.60 149.70,1144.60 C152.40,1144.60 155.10,1144.56 157.80,1144.30 C161.43,1143.95 165.07,1143.12 168.70,1142.60 C173.23,1141.95 177.77,1141.10 182.30,1140.80 C186.83,1140.50 191.37,1140.55 195.90,1140.50 C201.13,1140.44 206.37,1140.40 211.60,1140.40 C212.80,1140.40 214.00,1144.32 215.20,1144.80 C215.93,1145.09 216.67,1144.81 217.40,1147.70 C217.87,1149.54 218.33,1178.48 218.80,1181.00 C220.27,1188.93 221.73,1187.94 223.20,1189.00 C224.40,1189.87 225.60,1194.80 226.80,1194.80 C228.00,1194.80 229.20,1187.36 230.40,1183.90 C232.33,1178.32 234.27,1172.38 236.20,1168.00 C238.63,1162.48 241.07,1158.30 243.50,1154.90 C246.40,1150.85 249.30,1148.13 252.20,1146.20 C256.53,1143.32 260.87,1143.15 265.20,1141.90 C270.03,1140.50 274.87,1139.43 279.70,1138.30 C284.07,1137.27 288.43,1136.26 292.80,1135.40 C295.67,1134.83 298.53,1134.29 301.40,1133.90 C303.83,1133.57 306.27,1133.20 308.70,1133.20 C313.53,1133.20 318.37,1134.51 323.20,1134.90 C331.90,1135.61 340.60,1135.70 349.30,1136.10" fill="none" stroke="#ff3b3b" stroke-width="2.3" stroke-linejoin="round" stroke-linecap="butt" opacity="1"/>
<path d="M503.20,1135.40 C506.23,1135.40 509.27,1135.40 512.30,1135.40 C513.03,1135.40 513.77,1159.61 514.50,1168.00 C515.37,1177.92 516.23,1189.00 517.10,1189.00 C518.17,1189.00 519.23,1183.31 520.30,1179.60 C521.50,1175.42 522.70,1168.72 523.90,1165.10 C525.60,1159.98 527.30,1157.37 529.00,1154.90 C531.90,1150.68 534.80,1148.95 537.70,1147.00 C541.57,1144.39 545.43,1143.19 549.30,1141.90 C554.60,1140.13 559.90,1139.17 565.20,1138.30 C572.47,1137.11 579.73,1136.56 587.00,1136.10 C604.67,1134.99 622.33,1134.80 640.00,1134.80 C646.53,1134.80 653.07,1135.00 659.60,1135.00 C660.80,1135.00 662.00,1084.30 663.20,1084.30 C664.63,1084.30 666.07,1086.61 667.50,1089.00 C669.43,1092.22 671.37,1098.30 673.30,1102.00 C675.73,1106.66 678.17,1110.45 680.60,1113.60 C683.50,1117.35 686.40,1120.04 689.30,1122.30 C693.17,1125.32 697.03,1127.26 700.90,1128.80 C705.73,1130.72 710.57,1131.48 715.40,1132.20 C724.07,1133.50 732.73,1133.52 741.40,1133.90 C759.77,1134.70 778.13,1134.70 796.50,1135.10" fill="none" stroke="#7a7a7a" stroke-width="2.3" stroke-linejoin="round" stroke-linecap="butt" opacity="1"/>
<path d="M503.20,1135.40 C506.00,1135.40 508.80,1135.40 511.60,1135.40 C512.33,1135.40 513.07,1143.56 513.80,1146.20 C514.60,1149.08 515.40,1151.70 516.20,1151.70 C517.07,1151.70 517.93,1150.10 518.80,1149.10 C520.27,1147.40 521.73,1144.63 523.20,1143.30 C525.13,1141.54 527.07,1141.16 529.00,1140.40 C532.37,1139.08 535.73,1138.13 539.10,1137.50 C545.40,1136.31 551.70,1135.80 558.00,1135.80 C568.87,1135.79 579.73,1135.80 590.60,1135.40 C591.07,1135.38 591.53,1128.10 592.00,1128.10 C592.63,1128.10 593.27,1135.40 593.90,1135.40 C596.77,1135.40 599.63,1135.40 602.50,1135.00 C602.87,1134.95 603.23,1132.90 603.60,1132.90 C603.90,1132.90 604.20,1135.00 604.50,1135.00 C622.87,1135.00 641.23,1135.00 659.60,1135.00 C660.30,1135.00 661.00,1118.00 661.70,1118.00 C664.13,1118.00 666.57,1122.82 669.00,1124.50 C671.90,1126.51 674.80,1127.60 677.70,1128.80 C680.60,1130.00 683.50,1131.00 686.40,1131.70 C691.23,1132.87 696.07,1133.38 700.90,1133.90 C707.17,1134.58 713.43,1135.10 719.70,1135.10 C745.30,1135.10 770.90,1135.10 796.50,1135.10" fill="none" stroke="#0000ff" stroke-width="2.3" stroke-linejoin="round" stroke-linecap="butt" opacity="1"/>
<path d="M503.20,1135.40 C505.60,1135.40 508.00,1135.40 510.40,1135.40 C511.03,1135.40 511.67,1145.90 512.30,1153.50 C512.80,1159.50 513.30,1170.22 513.80,1175.20 C514.60,1183.17 515.40,1188.30 516.20,1188.30 C517.07,1188.30 517.93,1182.83 518.80,1178.10 C519.77,1172.82 520.73,1162.22 521.70,1157.80 C523.17,1151.10 524.63,1150.56 526.10,1148.40 C528.50,1144.87 530.90,1143.99 533.30,1142.60 C536.70,1140.63 540.10,1139.86 543.50,1139.00 C548.33,1137.78 553.17,1137.32 558.00,1136.80 C565.23,1136.02 572.47,1135.61 579.70,1135.40 C585.47,1135.23 591.23,1135.38 597.00,1134.50 C597.77,1134.38 598.53,1133.20 599.30,1133.20 C599.87,1133.20 600.43,1135.00 601.00,1135.00 C614.00,1135.00 627.00,1135.00 640.00,1134.60 C642.90,1134.51 645.80,1133.90 648.70,1133.90 C651.10,1133.90 653.50,1135.10 655.90,1135.10 C656.87,1135.10 657.83,1135.10 658.80,1132.50 C659.53,1130.53 660.27,1105.01 661.00,1096.20 C661.50,1090.19 662.00,1084.90 662.50,1084.90 C663.20,1084.90 663.90,1085.84 664.60,1087.50 C665.57,1089.80 666.53,1094.57 667.50,1097.70 C668.97,1102.45 670.43,1107.24 671.90,1110.70 C673.83,1115.26 675.77,1118.40 677.70,1120.90 C680.60,1124.65 683.50,1126.46 686.40,1128.10 C691.23,1130.83 696.07,1131.57 700.90,1132.50 C709.60,1134.17 718.30,1134.41 727.00,1134.60 C750.17,1135.09 773.33,1135.02 796.50,1135.10" fill="none" stroke="#ff3b3b" stroke-width="2.3" stroke-linejoin="round" stroke-linecap="butt" opacity="1"/>
<text x="19.23" y="22.80" font-size="23.00" font-weight="bold" fill="#000">A</text>
<text x="479.71" y="23.10" font-size="22.00" font-weight="bold" fill="#000">B</text>
<text x="21.27" y="490.90" font-size="20.70" font-weight="bold" fill="#000">C</text>
<text x="480.66" y="489.10" font-size="21.30" font-weight="bold" fill="#000">D</text>
<text x="22.66" y="983.60" font-size="21.30" font-weight="bold" fill="#000">E</text>
<text x="482.65" y="984.70" font-size="21.50" font-weight="bold" fill="#000">F</text>
<text x="78.24" y="28.90" font-size="25.58" font-weight="normal" fill="#000">pcDNA3.1:CG4928:eGFP vector</text>
<text x="235.32" y="56.90" font-size="25.86" font-weight="normal" fill="#000">pH 7</text>
<text x="503.14" y="29.40" font-size="25.58" font-weight="normal" fill="#000">pcDNA3.1:CG4928:eGFP vector</text>
<text x="660.72" y="56.50" font-size="25.84" font-weight="normal" fill="#000">pH 5</text>
<text x="71.03" y="499.00" font-size="25.62" font-weight="normal" fill="#000">pcDNA3.1:CG4928:eGFP vector</text>
<text x="518.33" y="498.50" font-size="25.63" font-weight="normal" fill="#000">pcDNA3.1:CG4928:Flag vector</text>
<text x="105.64" y="980.40" font-size="25.49" font-weight="normal" fill="#000">Aspartate transport</text>
<text x="556.61" y="983.30" font-size="25.94" font-weight="normal" fill="#000">Lysine transport</text>
<text x="137.37" y="107.80" font-size="21.89" font-weight="normal" fill="#000">add sugar</text>
<text x="247.52" y="215.80" font-size="21.94" font-weight="normal" fill="#000">remove sugar</text>
<text x="575.57" y="107.10" font-size="21.96" font-weight="normal" fill="#000">add sugar</text>
<text x="686.11" y="215.70" font-size="22.04" font-weight="normal" fill="#000">remove sugar</text>
<text x="120.16" y="535.40" font-size="22.04" font-weight="normal" fill="#000">add amino acid</text>
<text x="222.82" y="688.90" font-size="21.95" font-weight="normal" fill="#000">remove amino acid</text>
<text x="552.66" y="545.40" font-size="22.07" font-weight="normal" fill="#000">add amino acid</text>
<text x="652.62" y="617.50" font-size="21.95" font-weight="normal" fill="#000">remove amino acid</text>
<text x="75.86" y="1033.90" font-size="22.10" font-weight="normal" fill="#000">add amino acid</text>
<text x="130.51" y="1087.20" font-size="22.05" font-weight="normal" fill="#000">remove amino acid</text>
<text x="571.01" y="1035.80" font-size="22.07" font-weight="normal" fill="#000">remove amino acid</text>
<text x="512.47" y="1104.60" font-size="21.86" font-weight="normal" fill="#000">add amino acid</text>
<line x1="186.40" y1="112.60" x2="186.40" y2="143.10" stroke="#000" stroke-width="3.4"/>
<polygon points="181.15,142.10 191.65,142.10 186.40,151.10" fill="#000"/>
<line x1="315.10" y1="219.00" x2="315.10" y2="249.00" stroke="#000" stroke-width="3.4"/>
<polygon points="309.85,248.00 320.35,248.00 315.10,257.00" fill="#000"/>
<line x1="625.20" y1="113.00" x2="625.20" y2="143.50" stroke="#000" stroke-width="3.4"/>
<polygon points="619.95,142.50 630.45,142.50 625.20,151.50" fill="#000"/>
<line x1="754.00" y1="219.00" x2="754.00" y2="249.00" stroke="#000" stroke-width="3.4"/>
<polygon points="748.75,248.00 759.25,248.00 754.00,257.00" fill="#000"/>
<line x1="194.40" y1="541.60" x2="194.40" y2="571.60" stroke="#000" stroke-width="3.4"/>
<polygon points="189.15,570.60 199.65,570.60 194.40,579.60" fill="#000"/>
<line x1="315.60" y1="694.60" x2="315.60" y2="724.90" stroke="#000" stroke-width="3.4"/>
<polygon points="310.35,723.90 320.85,723.90 315.60,732.90" fill="#000"/>
<line x1="626.60" y1="550.40" x2="626.60" y2="580.30" stroke="#000" stroke-width="3.4"/>
<polygon points="621.35,579.30 631.85,579.30 626.60,588.30" fill="#000"/>
<line x1="745.60" y1="630.20" x2="745.60" y2="660.70" stroke="#000" stroke-width="3.4"/>
<polygon points="740.35,659.70 750.85,659.70 745.60,668.70" fill="#000"/>
<line x1="70.10" y1="1013.00" x2="70.10" y2="1042.70" stroke="#000" stroke-width="3.4"/>
<polygon points="64.85,1041.70 75.35,1041.70 70.10,1050.70" fill="#000"/>
<line x1="207.50" y1="1090.80" x2="207.50" y2="1121.20" stroke="#000" stroke-width="3.4"/>
<polygon points="202.25,1120.20 212.75,1120.20 207.50,1129.20" fill="#000"/>
<line x1="509.90" y1="1082.10" x2="509.90" y2="1112.10" stroke="#000" stroke-width="3.4"/>
<polygon points="504.65,1111.10 515.15,1111.10 509.90,1120.10" fill="#000"/>
<line x1="651.10" y1="1038.50" x2="651.10" y2="1067.90" stroke="#000" stroke-width="3.4"/>
<polygon points="645.85,1066.90 656.35,1066.90 651.10,1075.90" fill="#000"/>
<text x="197.30" y="424.70" font-size="26.45" font-weight="normal" fill="#000">Time (s)</text>
<text x="634.41" y="424.70" font-size="26.11" font-weight="normal" fill="#000">Time (s)</text>
<text x="201.00" y="897.90" font-size="26.65" font-weight="normal" fill="#000">Time (s)</text>
<text x="637.30" y="898.20" font-size="26.45" font-weight="normal" fill="#000">Time (s)</text>
<text x="171.43" y="1242.90" font-size="20.78" font-weight="normal" fill="#000">Time (s)</text>
<text x="615.93" y="1242.80" font-size="20.78" font-weight="normal" fill="#000">Time (s)</text>
<text x="27.70" y="267.89" font-size="25.71" transform="rotate(-90 27.70 267.89)">Current (nA)</text>
<text x="473.50" y="280.99" font-size="25.78" transform="rotate(-90 473.50 280.99)">Current (nA)</text>
<text x="28.30" y="752.39" font-size="25.86" transform="rotate(-90 28.30 752.39)">Current (nA)</text>
<text x="467.10" y="753.09" font-size="25.71" transform="rotate(-90 467.10 753.09)">Current (nA)</text>
<text x="27.90" y="1171.00" font-size="25.93" transform="rotate(-90 27.90 1171.00)">Current (nA)</text>
<text x="467.20" y="1171.69" font-size="25.78" transform="rotate(-90 467.20 1171.69)">Current (nA)</text>
<text x="853.31" y="63.80" font-size="22.11" font-weight="normal" fill="#000">SGLT1 (Positive control):</text>
<line x1="875.80" y1="86.70" x2="908.60" y2="86.70" stroke="#808080" stroke-width="3.8"/>
<text x="913.39" y="94.10" font-size="22.10" font-weight="normal" fill="#000">Glucose</text>
<text x="853.19" y="128.20" font-size="22.10" font-weight="normal" fill="#000">CG4928 vector:</text>
<line x1="875.80" y1="149.20" x2="908.60" y2="149.20" stroke="#ff6a10" stroke-width="3.2"/>
<text x="912.68" y="155.30" font-size="22.10" font-weight="normal" fill="#000">Fructose</text>
<line x1="875.80" y1="182.50" x2="908.60" y2="182.50" stroke="#ff0000" stroke-width="3.2"/>
<text x="913.39" y="187.90" font-size="22.10" font-weight="normal" fill="#000">Galactose</text>
<line x1="875.80" y1="215.50" x2="908.60" y2="215.50" stroke="#1ec81e" stroke-width="3.2"/>
<text x="913.39" y="221.20" font-size="22.10" font-weight="normal" fill="#000">Glucose</text>
<line x1="875.80" y1="250.30" x2="908.60" y2="250.30" stroke="#9a10e0" stroke-width="3.2"/>
<text x="912.68" y="256.30" font-size="22.10" font-weight="normal" fill="#000">Lactose</text>
<line x1="875.80" y1="286.60" x2="908.60" y2="286.60" stroke="#0000ff" stroke-width="3.2"/>
<text x="913.51" y="291.50" font-size="22.10" font-weight="normal" fill="#000">Saccharose</text>
<line x1="875.80" y1="320.40" x2="908.60" y2="320.40" stroke="#ff55dd" stroke-width="3.2"/>
<text x="914.00" y="326.10" font-size="22.10" font-weight="normal" fill="#000">Xylose</text>
<text x="851.37" y="532.40" font-size="22.21" font-weight="normal" fill="#000">PepT1 (Positive control):</text>
<line x1="887.10" y1="548.60" x2="917.10" y2="548.60" stroke="#808080" stroke-width="3.8"/>
<text x="933.66" y="557.40" font-size="22.85" font-weight="normal" fill="#000">Glycylglycine</text>
<text x="852.07" y="583.90" font-size="22.60" font-weight="normal" fill="#000">CG4928 vector:</text>
<line x1="887.10" y1="602.10" x2="917.10" y2="602.10" stroke="#0000ee" stroke-width="3.4"/>
<text x="934.74" y="609.50" font-size="22.60" font-weight="normal" fill="#000">Alanine</text>
<line x1="887.10" y1="622.10" x2="917.10" y2="622.10" stroke="#f7a0e6" stroke-width="3.4"/>
<text x="934.74" y="629.50" font-size="22.60" font-weight="normal" fill="#000">Allantoin</text>
<line x1="887.10" y1="644.20" x2="917.10" y2="644.20" stroke="#9900dd" stroke-width="3.4"/>
<text x="934.74" y="651.60" font-size="22.60" font-weight="normal" fill="#000">Arginine</text>
<line x1="887.10" y1="674.20" x2="917.10" y2="674.20" stroke="#99003f" stroke-width="3.4"/>
<text x="934.74" y="681.00" font-size="22.60" font-weight="normal" fill="#000">Aspartate</text>
<line x1="887.10" y1="693.30" x2="917.10" y2="693.30" stroke="#4da6ff" stroke-width="3.4"/>
<text x="933.67" y="700.70" font-size="22.60" font-weight="normal" fill="#000">Cysteine</text>
<line x1="887.10" y1="718.40" x2="917.10" y2="718.40" stroke="#ffee00" stroke-width="3.4"/>
<text x="933.67" y="725.10" font-size="22.60" font-weight="normal" fill="#000">Glutamate</text>
<line x1="887.10" y1="739.80" x2="917.10" y2="739.80" stroke="#bfb37f" stroke-width="3.4"/>
<text x="933.67" y="747.20" font-size="22.60" font-weight="normal" fill="#000">Glutamine</text>
<line x1="887.10" y1="761.30" x2="917.10" y2="761.30" stroke="#11ee11" stroke-width="3.4"/>
<text x="933.67" y="768.40" font-size="22.60" font-weight="normal" fill="#000">Glycine</text>
<line x1="887.10" y1="783.10" x2="917.10" y2="783.10" stroke="#ff3b30" stroke-width="3.4"/>
<text x="933.67" y="789.90" font-size="22.60" font-weight="normal" fill="#000">Glycylglycine</text>
<line x1="887.10" y1="804.00" x2="917.10" y2="804.00" stroke="#ff9933" stroke-width="3.4"/>
<text x="932.94" y="811.00" font-size="22.60" font-weight="normal" fill="#000">Leucine</text>
<line x1="887.10" y1="826.10" x2="917.10" y2="826.10" stroke="#ff44dd" stroke-width="3.4"/>
<text x="932.94" y="833.10" font-size="22.60" font-weight="normal" fill="#000">Lysine</text>
<line x1="887.10" y1="847.30" x2="917.10" y2="847.30" stroke="#aa0000" stroke-width="3.4"/>
<text x="932.94" y="853.70" font-size="22.60" font-weight="normal" fill="#000">Proline</text>
<line x1="804.80" y1="997.60" x2="835.50" y2="997.60" stroke="#808080" stroke-width="3.8"/>
<text x="842.08" y="1001.90" font-size="21.85" font-weight="normal" fill="#000">pcDNA3.1:Empty</text>
<line x1="804.80" y1="1029.20" x2="835.50" y2="1029.20" stroke="#0000ff" stroke-width="3.4"/>
<text x="842.08" y="1035.40" font-size="21.83" font-weight="normal" fill="#000">pcDNA3.1:CG4928:eGFP</text>
<line x1="804.80" y1="1063.00" x2="835.50" y2="1063.00" stroke="#ff3b3b" stroke-width="3.4"/>
<text x="842.09" y="1068.10" font-size="21.67" font-weight="normal" fill="#000">pcDNA3.1:CG4928:Flag</text>
</svg></body></html>
